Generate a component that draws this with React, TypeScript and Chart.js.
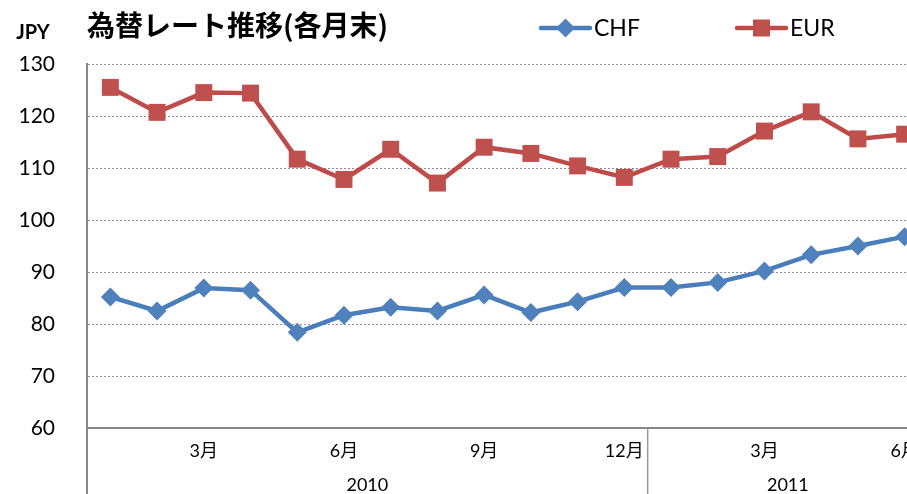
import React, { useEffect, useRef } from 'react';
import { Chart, registerables } from 'chart.js';

Chart.register(...registerables);

const months = ['1月', '2月', '3月', '4月', '5月', '6月', '7月', '8月', '9月', '10月', '11月', '12月', '1月', '2月', '3月', '4月', '5月', '6月'];
const years = ['2010', '2011'];
const yearSizes = [12, 6];
const chf = [85.2, 82.5, 86.9, 86.5, 78.4, 81.7, 83.2, 82.5, 85.6, 82.2, 84.3, 87.0, 87.0, 88.0, 90.2, 93.3, 95.0, 96.8];
const eur = [125.5, 120.7, 124.5, 124.4, 111.7, 107.8, 113.6, 107.1, 114.0, 112.8, 110.4, 108.2, 111.7, 112.2, 117.1, 120.8, 115.6, 116.5];
const seriesNames = ['CHF', 'EUR'];
const yMin = 60;
const yMax = 130;
const yStep = 10;
const titleText = '為替レート推移(各月末)';
const unitText = 'JPY';

const BLUE = '#4A7EBB';
const BLUE_M = '#4F81BD';
const RED = '#BE4B48';
const RED_M = '#C0504D';
const AXIS = '#868686';
const FONT = "Lato, 'Noto Sans CJK JP', sans-serif";

function drawMarker(ctx: CanvasRenderingContext2D, kind: string, x: number, y: number, color: string) {
  ctx.save();
  ctx.fillStyle = color;
  ctx.beginPath();
  if (kind === 'diamond') {
    const r = 9.5;
    ctx.moveTo(x, y - r);
    ctx.lineTo(x + r, y);
    ctx.lineTo(x, y + r);
    ctx.lineTo(x - r, y);
    ctx.closePath();
  } else {
    const s = 8.5;
    ctx.rect(x - s, y - s, 2 * s, 2 * s);
  }
  ctx.fill();
  ctx.restore();
}

const decorPlugin = {
  id: 'decor',
  afterDraw(chart: any) {
    const ctx: CanvasRenderingContext2D = chart.ctx;
    const ca = chart.chartArea;
    const H = chart.height;
    const n = months.length;
    const w = (ca.right - ca.left) / n;
    ctx.save();
    // category group separators
    ctx.strokeStyle = AXIS;
    ctx.lineWidth = 2;
    ctx.beginPath();
    ctx.moveTo(ca.left, ca.bottom);
    ctx.lineTo(ca.left, H);
    ctx.stroke();
    let start = 0;
    ctx.fillStyle = '#000';
    ctx.font = `18px ${FONT}`;
    ctx.textAlign = 'center';
    ctx.textBaseline = 'middle';
    years.forEach((yr, i) => {
      const x0 = ca.left + start * w;
      const x1 = ca.left + (start + yearSizes[i]) * w;
      ctx.fillText(yr, (x0 + x1) / 2, 485);
      if (i > 0) {
        ctx.strokeStyle = '#9a9a9a';
        ctx.lineWidth = 1.5;
        ctx.beginPath();
        ctx.moveTo(x0, ca.bottom);
        ctx.lineTo(x0, H);
        ctx.stroke();
      }
      start += yearSizes[i];
    });
    // title
    ctx.textAlign = 'left';
    ctx.font = `bold 28px 'Noto Sans CJK JP', sans-serif`;
    ctx.fillText(titleText, 87, 25);
    // unit
    ctx.font = `bold 20px ${FONT}`;
    ctx.textAlign = 'center';
    ctx.fillText(unitText, 33, 33);
    // legend
    const items = [
      { name: seriesNames[0], x: 541, line: BLUE, mark: BLUE_M, kind: 'diamond' },
      { name: seriesNames[1], x: 737, line: RED, mark: RED_M, kind: 'square' },
    ];
    items.forEach((it) => {
      const y = 28;
      ctx.strokeStyle = it.line;
      ctx.lineWidth = 4.5;
      ctx.lineCap = 'round';
      ctx.beginPath();
      ctx.moveTo(it.x, y);
      ctx.lineTo(it.x + 49, y);
      ctx.stroke();
      drawMarker(ctx, it.kind, it.x + 24.5, y, it.mark);
      ctx.fillStyle = '#000';
      ctx.font = `23px ${FONT}`;
      ctx.textAlign = 'left';
      ctx.textBaseline = 'middle';
      ctx.fillText(it.name, it.x + 53, y + 1);
    });
    ctx.restore();
  },
};

export default function App() {
  const ref = useRef<HTMLCanvasElement | null>(null);
  useEffect(() => {
    if (!ref.current) return;
    const chart = new Chart(ref.current, {
      type: 'line',
      data: {
        labels: months,
        datasets: [
          {
            label: seriesNames[0],
            data: chf,
            borderColor: BLUE,
            backgroundColor: BLUE_M,
            borderWidth: 4.5,
            pointStyle: 'rectRot',
            pointRadius: 9.5,
            pointBorderWidth: 0,
            pointBackgroundColor: BLUE_M,
            tension: 0,
          },
          {
            label: seriesNames[1],
            data: eur,
            borderColor: RED,
            backgroundColor: RED_M,
            borderWidth: 4.5,
            pointStyle: 'rect',
            pointRadius: 12,
            pointBorderWidth: 0,
            pointBackgroundColor: RED_M,
            tension: 0,
          },
        ],
      },
      options: {
        animation: false,
        responsive: true,
        maintainAspectRatio: false,
        layout: { padding: { top: 64, right: 8, bottom: 0, left: 0 } },
        plugins: {
          legend: { display: false },
          title: { display: false },
          tooltip: { enabled: false },
        },
        scales: {
          x: {
            type: 'category',
            offset: true,
            grid: { display: false, drawTicks: false },
            border: { display: true, color: AXIS, width: 2 },
            ticks: {
              autoSkip: false,
              maxRotation: 0,
              minRotation: 0,
              padding: 12,
              color: '#000',
              font: { family: FONT, size: 18 },
              callback: (_v: any, i: number) => (i % 3 === 2 ? months[i] : ''),
            },
            afterFit: (s: any) => {
              s.height = 66;
            },
          },
          y: {
            min: yMin,
            max: yMax,
            grid: { color: '#8c8c8c', lineWidth: 1, drawTicks: false },
            border: { display: true, color: AXIS, width: 2, dash: [2, 2] },
            ticks: {
              stepSize: yStep,
              padding: 32,
              color: '#000',
              font: { family: FONT, size: 21 },
            },
            afterFit: (s: any) => {
              s.width = 87;
            },
          },
        },
      },
      plugins: [decorPlugin],
    });
    return () => chart.destroy();
  }, []);
  return (
    <div style={{ position: 'fixed', left: 0, top: 0, width: 907, height: 494, overflow: 'hidden', background: '#fff' }}>
      <div style={{ width: 940, height: 494, position: 'relative' }}>
        <canvas ref={ref} />
      </div>
    </div>
  );
}
